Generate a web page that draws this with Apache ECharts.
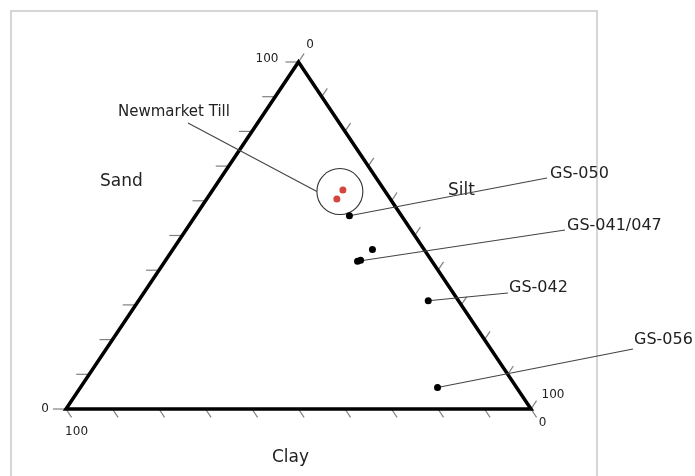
<!DOCTYPE html>
<html>
<head>
<meta charset="utf-8">
<script src="https://cdn.jsdelivr.net/npm/echarts@6/dist/echarts.min.js"></script>
<style>
html, body { margin: 0; padding: 0; background: #fff; }
#chart { width: 695px; height: 476px; }
</style>
</head>
<body>
<div id="chart"></div>
<script>
// texture percentages
var tickValues = [0, 10, 20, 30, 40, 50, 60, 70, 80, 90, 100];
var tickEdges = ['sand', 'clay', 'silt'];

var sampleNames = ['GS-050', 'GS-041', 'GS-047', 'unlabelled', 'GS-042', 'GS-056'];
var sampleSand = [55.7, 42.6, 42.9, 46.0, 31.2, 6.2];
var sampleSilt = [33.1, 41.4, 41.9, 42.9, 62.3, 76.8];
var sampleClay = [11.2, 16.0, 15.2, 11.1, 6.5, 17.0];

var tillNames = ['Newmarket Till a', 'Newmarket Till b'];
var tillSand = [63.1, 60.5];
var tillSilt = [28.0, 28.0];
var tillClay = [8.9, 11.5];

var calloutTexts = ['GS-050', 'GS-041/047', 'GS-042', 'GS-056'];
var calloutSample = [0, 1, 4, 5];

// layout only (pixels)
var calloutPos = [
  { end: [547, 178], text: [550, 174] },
  { end: [565, 230], text: [567, 226] },
  { end: [508, 293], text: [509, 288] },
  { end: [633, 349], text: [634, 340] }
];
var tickLabelPos = {
  sand: { 100: [-7, -3, 'right'], 0: [-4, 0, 'right'] },
  clay: { 100: [5, 15, 'center'], 0: [6, 6, 'center'] },
  silt: { 0: [6, -9, 'center'], 100: [5, -6, 'left'] }
};
var FONT = '"DejaVu Sans", sans-serif';
var TEXT = '#222';

// ternary -> cartesian (clay corner at 0,0 / silt corner at 100,0 / sand corner on top)
function toXY(sand, silt) {
  return [silt + sand / 2, sand];
}
function unit(a, b) {
  var dx = b[0] - a[0], dy = b[1] - a[1];
  var l = Math.sqrt(dx * dx + dy * dy);
  return [dx / l, dy / l];
}

var samplePts = sampleNames.map(function (n, i) {
  return { name: n, value: toXY(sampleSand[i], sampleSilt[i]).concat([sampleClay[i]]) };
});
var tillPts = tillNames.map(function (n, i) {
  return { name: n, value: toXY(tillSand[i], tillSilt[i]).concat([tillClay[i]]) };
});

var tickData = [];
tickEdges.forEach(function (e, ei) {
  tickValues.forEach(function (v) { tickData.push([ei, v]); });
});

var chart = echarts.init(document.getElementById('chart'));

var option = {
  animation: false,
  grid: { left: 66, right: 164, top: 62, bottom: 67 },
  xAxis: { type: 'value', min: 0, max: 100, show: false },
  yAxis: { type: 'value', min: 0, max: 100, show: false },
  graphic: [
    {
      type: 'rect', z: -10, silent: true,
      shape: { x: 11, y: 11, width: 586, height: 480 },
      style: { fill: '#fff', stroke: '#c9c9c9', lineWidth: 1.5 }
    },
    { type: 'text', left: 100, top: 173, style: { text: 'Sand', fontSize: 17, fontFamily: FONT, fill: TEXT } },
    { type: 'text', left: 448, top: 182, style: { text: 'Silt', fontSize: 17, fontFamily: FONT, fill: TEXT } },
    { type: 'text', left: 272, top: 449, style: { text: 'Clay', fontSize: 17, fontFamily: FONT, fill: TEXT } }
  ],
  series: [
    {
      // triangle outline
      type: 'custom',
      coordinateSystem: 'cartesian2d',
      clip: false,
      silent: true,
      z: 3,
      data: [[0, 0]],
      renderItem: function (params, api) {
        var pts = [toXY(100, 0), toXY(0, 100), toXY(0, 0)].map(function (c) { return api.coord(c); });
        return {
          type: 'polygon',
          shape: { points: pts },
          style: { fill: 'none', stroke: '#000', lineWidth: 3.5, lineJoin: 'miter' }
        };
      }
    },
    {
      // ticks on the three edges
      type: 'custom',
      coordinateSystem: 'cartesian2d',
      clip: false,
      silent: true,
      z: 2,
      data: tickData,
      renderItem: function (params, api) {
        var edge = tickEdges[api.value(0)];
        var v = api.value(1);
        var top = api.coord(toXY(100, 0)), bl = api.coord(toXY(0, 0)), br = api.coord(toXY(0, 100));
        var p, dir, len;
        if (edge === 'sand') { p = api.coord(toXY(v, 0)); dir = [-1, 0]; len = 13; }
        else if (edge === 'clay') { p = api.coord(toXY(0, 100 - v)); dir = unit(top, br); len = 10; }
        else { p = api.coord(toXY(100 - v, v)); dir = unit(bl, top); len = 10; }
        var end = [p[0] + dir[0] * len, p[1] + dir[1] * len];
        var children = [{
          type: 'line',
          shape: { x1: p[0], y1: p[1], x2: end[0], y2: end[1] },
          style: { stroke: '#808080', lineWidth: 1.2 }
        }];
        var lp = tickLabelPos[edge][v];
        if (lp) {
          children.push({
            type: 'text',
            x: end[0] + lp[0], y: end[1] + lp[1],
            style: {
              text: String(v), fontSize: 12, fontFamily: FONT, fill: TEXT,
              textAlign: lp[2], textVerticalAlign: 'middle'
            }
          });
        }
        return { type: 'group', children: children };
      }
    },
    {
      // sample callouts
      type: 'custom',
      coordinateSystem: 'cartesian2d',
      clip: false,
      silent: true,
      z: 4,
      data: calloutSample.map(function (s) { return samplePts[s].value; }),
      renderItem: function (params, api) {
        var i = params.dataIndex;
        var p = api.coord([api.value(0), api.value(1)]);
        var lay = calloutPos[i];
        return {
          type: 'group',
          children: [
            {
              type: 'line',
              shape: { x1: p[0], y1: p[1], x2: lay.end[0], y2: lay.end[1] },
              style: { stroke: '#444', lineWidth: 1.1 }
            },
            {
              type: 'text',
              x: lay.text[0], y: lay.text[1],
              style: {
                text: calloutTexts[i], fontSize: 16, fontFamily: FONT, fill: TEXT,
                textAlign: 'left', textVerticalAlign: 'middle'
              }
            }
          ]
        };
      }
    },
    {
      // circle round the Newmarket Till samples
      type: 'custom',
      coordinateSystem: 'cartesian2d',
      clip: false,
      silent: true,
      z: 4,
      data: [[0, 0]],
      renderItem: function (params, api) {
        var c = [0, 0];
        tillPts.forEach(function (t) {
          var q = api.coord([t.value[0], t.value[1]]);
          c[0] += q[0] / tillPts.length;
          c[1] += q[1] / tillPts.length;
        });
        c[1] -= 3;
        var r = 23;
        return {
          type: 'group',
          children: [
            {
              type: 'circle',
              shape: { cx: c[0], cy: c[1], r: r },
              style: { fill: 'none', stroke: '#333', lineWidth: 1.1 }
            },
            {
              type: 'line',
              shape: { x1: 188, y1: 123, x2: c[0] - r, y2: c[1] },
              style: { stroke: '#444', lineWidth: 1.1 }
            },
            {
              type: 'text',
              x: 118, y: 112,
              style: {
                text: 'Newmarket Till', fontSize: 15, fontFamily: FONT, fill: TEXT,
                textAlign: 'left', textVerticalAlign: 'middle'
              }
            }
          ]
        };
      }
    },
    {
      name: 'Samples',
      type: 'scatter',
      z: 5,
      symbol: 'circle',
      symbolSize: 7,
      itemStyle: { color: '#000', opacity: 1 },
      data: samplePts
    },
    {
      name: 'Newmarket Till',
      type: 'scatter',
      z: 5,
      symbol: 'circle',
      symbolSize: 7,
      itemStyle: { color: '#d4453d', opacity: 1 },
      data: tillPts
    }
  ]
};

chart.setOption(option);
window.addEventListener('resize', function () { chart.resize(); });
</script>
</body>
</html>
